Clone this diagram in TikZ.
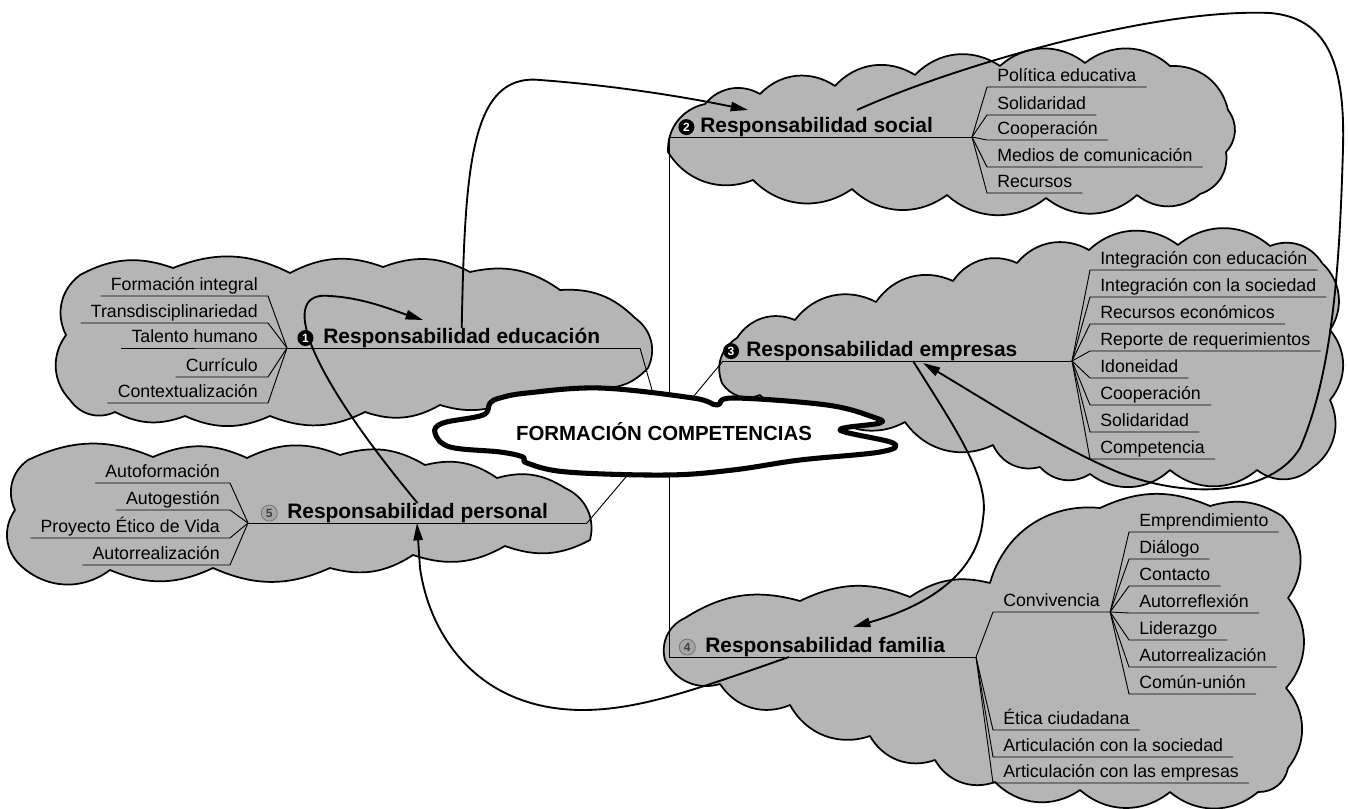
\documentclass[tikz,border=0pt]{standalone}
\usepackage{fontspec}
\setmainfont{Liberation Sans}
\usetikzlibrary{positioning,arrows.meta}

\begin{document}
\begin{tikzpicture}[x=0.75pt, y=0.75pt,
                    line join=round,
                    link/.style={line width=1.4pt, -{Triangle[length=13pt,width=7pt]}},
                    ]
    \tikzstyle{bubble}=[draw=black, fill=black!29, line width=1.3pt]
    \tikzstyle{puff}=[bend left=40]
    \tikzstyle{lowpuff}=[bend left=24]
    \tikzstyle{branch}=[line width=0.7pt]
    \tikzstyle{leaf}=[inner xsep=7.5pt, inner ysep=1pt, text depth=2.6pt, font=\fontsize{13.3}{15}\selectfont]
    \tikzstyle{leafR}=[leaf, anchor=south west]
    \tikzstyle{leafL}=[leaf, anchor=south east]
    \tikzstyle{title}=[inner sep=0pt, anchor=base west, font=\bfseries\fontsize{15.7}{18}\selectfont]
    \tikzstyle{numdark}=[circle, fill=black, text=white, inner sep=0pt, minimum size=12pt, font=\bfseries\fontsize{9}{9}\selectfont]
    \tikzstyle{numlight}=[numdark, fill=black!35, draw=black!55, line width=0.6pt, text=black!75]

    \useasboundingbox (0,0) rectangle (1348,808);

    % educacion, personal, social, empresas, familia
    \filldraw[bubble] (70,408) to[puff] (66,473) to[puff] (80,533)
        to[lowpuff] (173,540) to[lowpuff] (290,535) to[lowpuff] (383,541) to[lowpuff] (470,536)
        to[lowpuff] (560,518) to[lowpuff] (635,490) to[puff] (648,440)
        to[lowpuff] (600,420) to[lowpuff] (520,413) to[lowpuff] (440,403) to[lowpuff] (365,396)
        to[lowpuff] (270,392) to[lowpuff] (185,392) to[lowpuff] (115,396) to[puff] (70,408) -- cycle;
    \filldraw[bubble] (20,243) to[puff] (15,298) to[puff] (28,348)
        to[lowpuff] (153,351) to[lowpuff] (247,350) to[lowpuff] (340,353) to[lowpuff] (425,343)
        to[lowpuff] (497,330) to[lowpuff] (565,320) to[puff] (590,268)
        to[lowpuff] (505,262) to[lowpuff] (413,253) to[lowpuff] (330,240) to[lowpuff] (213,240)
        to[lowpuff] (110,238) to[puff] (20,243) -- cycle;
    \filldraw[bubble] (668,656) to[puff] (705,704) to[puff] (760,714) to[puff] (835,722)
        to[puff] (915,733) to[puff] (1000,742) to[puff] (1085,745) to[puff] (1170,742)
        to[puff] (1228,698) to[puff] (1226,656) to[puff] (1200,614) to[puff] (1137,613)
        to[puff] (1046,610) to[puff] (947,613) to[puff] (852,619) to[puff] (753,628) to[puff] (668,656) -- cycle;
    \filldraw[bubble] (722,425) to[puff] (737,470) to[puff] (795,488) to[puff] (876,506)
        to[puff] (953,527) to[puff] (1017,545) to[puff] (1089,558) to[puff] (1178,563)
        to[puff] (1270,562) to[puff] (1322,545) to[puff] (1330,478) to[puff] (1330,408)
        to[puff] (1312,340) to[puff] (1257,338) to[puff] (1170,338) to[puff] (1090,334)
        to[puff] (1040,341) to[puff] (993,363) to[puff] (905,386) to[puff] (820,403)
        to[puff] (760,413) to[puff] (722,425) -- cycle;
    \filldraw[bubble] (665,148) to[puff] (685,190) to[lowpuff] (800,207) to[lowpuff] (910,211)
        to[lowpuff] (990,225) to[puff] (1100,300) to[lowpuff] (1210,302) to[lowpuff] (1282,292)
        to[puff] (1288,210) to[puff] (1286,120) to[puff] (1288,40) to[puff] (1258,16)
        to[puff] (1170,16) to[puff] (1080,18) to[puff] (995,26) to[puff] (935,48)
        to[puff] (870,72) to[puff] (790,103) to[puff] (720,124) to[puff] (665,148) -- cycle;

    \coordinate (hub) at (664,376);
    \coordinate (edu-l) at (287,460);  \coordinate (edu-r) at (640,460);
    \coordinate (per-l) at (248,285);  \coordinate (per-r) at (587,285);
    \coordinate (soc-l) at (669,671);  \coordinate (soc-r) at (972,671);
    \coordinate (emp-l) at (723,447);  \coordinate (emp-r) at (1072,447);
    \coordinate (fam-l) at (669,151);  \coordinate (fam-r) at (976,151);

    \draw[branch] (soc-l) -- (fam-l);
    \draw[branch] (edu-r) -- (hub);
    \draw[branch] (per-r) -- (hub);
    \draw[branch] (emp-l) -- (hub);

    \filldraw[draw=black, fill=white, line width=3.8pt] plot[smooth cycle, tension=0.6] coordinates {
        (435,375) (443,385) (483,393) (490,405) (500,410) (527,415) (600,420) (693,410) (717,403)
        (733,410) (827,403) (873,391) (880,385) (840,378) (893,365) (880,356) (800,348) (733,338)
        (667,333) (567,336) (527,345) (523,351) (500,356) (450,361)};
    \node[font=\bfseries\fontsize{15.3}{18}\selectfont] (fc) at (hub) {FORMACIÓN COMPETENCIAS};

    \node[title] (tedu) at (323,464.5) {Responsabilidad educación};
    \node[title] (tsoc) at (700,675.5) {Responsabilidad social};
    \node[title] (temp) at (746,451.5) {Responsabilidad empresas};
    \node[title] (tfam) at (705,155.5) {Responsabilidad familia};
    \node[title] (tper) at (287,289.5) {Responsabilidad personal};
    \node[numdark, left=7pt of tedu] (nedu) {1};
    \node[numdark, left=4pt of tsoc] (nsoc) {2};
    \node[numdark, left=5pt of temp] (nemp) {3};
    \node[numlight, left=7pt of tfam] (nfam) {4};
    \node[numlight, left=7pt of tper] (nper) {5};

    \draw[branch] (edu-l) -- (edu-r);
    \draw[branch] (per-l) -- (per-r);
    \draw[branch] (soc-l) -- (soc-r);
    \draw[branch] (emp-l) -- (emp-r);
    \draw[branch] (fam-l) -- (fam-r);

    \foreach \n/\y/\t in {pol/721/Política educativa, sol/693/Solidaridad, coo/668/Cooperación,
                          med/641/Medios de comunicación, rec/615/Recursos}
        \node[leafR] (\n) at (987,\y) {\t};
    \foreach \n/\y/\t in {ie/538/Integración con educación, is/511/Integración con la sociedad,
                          rce/484/Recursos económicos, rr/457/Reporte de requerimientos,
                          ido/430/Idoneidad, coe/403/Cooperación, soe/376/Solidaridad, cmp/349/Competencia}
        \node[leafR] (\n) at (1090,\y) {\t};
    \foreach \n/\y/\t in {conv/196/Convivencia, eti/78/Ética ciudadana,
                          as/51/Articulación con la sociedad, ae/25/Articulación con las empresas}
        \node[leafR] (\n) at (993,\y) {\t};
    \foreach \n/\y/\t in {epr/276/Emprendimiento, dia/249/Diálogo, cnt/222/Contacto, arf/195/Autorreflexión,
                          lid/168/Liderazgo, arz/141/Autorrealización, cu/114/Común-unión}
        \node[leafR] (\n) at (1129,\y) {\t};
    \foreach \n/\y/\t in {fi/512/Formación integral, tr/485/Transdisciplinariedad, th/460/Talento humano,
                          cur/431/Currículo, ctx/405/Contextualización}
        \node[leafL] (\n) at (268,\y) {\t};
    \foreach \n/\y/\t in {af/325/Autoformación, ag/298/Autogestión, pev/270/Proyecto Ético de Vida,
                          ar/243/Autorrealización}
        \node[leafL] (\n) at (230,\y) {\t};

    \foreach \n in {pol,sol,coo,med,rec}
        \draw[branch] (soc-r) -- (\n.south west) -- (\n.south east);
    \foreach \n in {ie,is,rce,rr,ido,coe,soe,cmp}
        \draw[branch] (emp-r) -- (\n.south west) -- (\n.south east);
    \foreach \n in {conv,eti,as,ae}
        \draw[branch] (fam-r) -- (\n.south west) -- (\n.south east);
    \foreach \n in {epr,dia,cnt,arf,lid,arz,cu}
        \draw[branch] (conv.south east) -- (\n.south west) -- (\n.south east);
    \foreach \n in {fi,tr,th,cur,ctx}
        \draw[branch] (edu-l) -- (\n.south east) -- (\n.south west);
    \foreach \n in {af,ag,pev,ar}
        \draw[branch] (per-l) -- (\n.south east) -- (\n.south west);

    % links between responsibilities
    \coordinate (soc-in) at (748,698);   \coordinate (soc-out) at (857,698);
    \coordinate (emp-in) at (923,445);   \coordinate (emp-out) at (913,447);
    \coordinate (fam-in) at (853,181);   \coordinate (fam-out) at (789,151);
    \coordinate (per-in) at (417,285);   \coordinate (edu-in) at (423,488);

    \draw[link] (tedu.north) .. controls (465,640) and (470,735) .. (540,728)
        .. controls (620,722) and (690,710) .. (soc-in);
    \draw[link] (soc-out) .. controls (950,740) and (1150,800) .. (1270,795)
        .. controls (1330,790) and (1345,740) .. (1343,660)
        .. controls (1340,560) and (1335,440) .. (1300,360)
        .. controls (1275,318) and (1200,305) .. (1120,335)
        .. controls (1060,360) and (990,405) .. (emp-in);
    \draw[link] (emp-out) .. controls (955,380) and (990,330) .. (983,290)
        .. controls (978,230) and (920,200) .. (fam-in);
    \draw[link] (fam-out) .. controls (700,120) and (640,98) .. (583,98)
        .. controls (480,98) and (430,170) .. (420,240) -- (per-in);
    \draw[link] (tper.north) .. controls (305,440) and (278,518) .. (330,512)
        .. controls (365,510) and (395,497) .. (edu-in);
\end{tikzpicture}
\end{document}
